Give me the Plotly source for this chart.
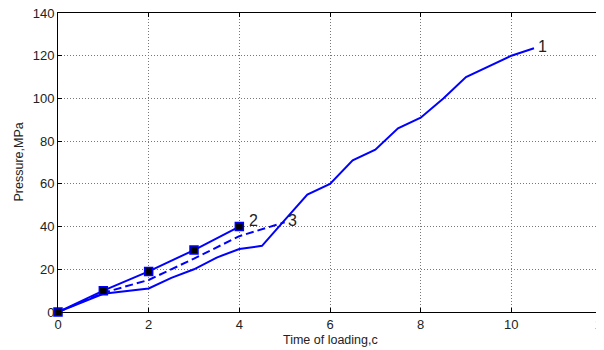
import plotly.graph_objects as go

# Curve 1 (solid, no markers)
t1 = [0, 1, 2, 2.5, 3, 3.5, 4, 4.5, 5, 5.5, 6, 6.5, 7, 7.5, 8, 8.5, 9, 9.5, 10, 10.5]
p1 = [0, 8.5, 11, 16, 20, 25.5, 29.5, 31, 43, 55, 60, 71, 76, 86, 91, 100, 110, 115, 120, 123.5]

# Curve 2 (solid, square markers)
t2 = [0, 1, 2, 3, 4]
p2 = [0, 10, 19, 29, 40]

# Curve 3 (dashed)
t3 = [0, 1, 2, 3, 4, 5]
p3 = [0, 9, 15, 25, 35.5, 42]

labels = ["1", "2", "3"]
x_ticks = [0, 2, 4, 6, 8, 10, 12]
y_ticks = [0, 20, 40, 60, 80, 100, 120, 140]

BLUE = "#0000ff"
FONT = "Liberation Sans, Arial, sans-serif"

fig = go.Figure()
fig.add_trace(go.Scatter(x=t1, y=p1, mode="lines",
                         line=dict(color=BLUE, width=2), cliponaxis=False))
fig.add_trace(go.Scatter(x=t3, y=p3, mode="lines",
                         line=dict(color=BLUE, width=2, dash="8px,4px"), cliponaxis=False))
fig.add_trace(go.Scatter(x=t2, y=p2, mode="lines+markers",
                         line=dict(color=BLUE, width=2),
                         marker=dict(symbol="square", size=8, color="black",
                                     line=dict(color=BLUE, width=1.5)),
                         cliponaxis=False))

# Curve labels next to the end of each curve
ends = [(t1[-1], p1[-1], 8, 2), (t2[-1], p2[-1], 14, 6), (t3[-1], p3[-1], 8, 2)]
for lab, (xe, ye, xs, ys) in zip(labels, ends):
    fig.add_annotation(x=xe, y=ye, text=lab, showarrow=False, xshift=xs, yshift=ys,
                       xanchor="center", yanchor="middle",
                       font=dict(family=FONT, size=16, color="#222"))

# Axis titles
fig.add_annotation(x=0, y=0.5, xref="paper", yref="paper", text="Pressure,MPa",
                   textangle=-90, showarrow=False, xshift=-40,
                   xanchor="center", yanchor="middle",
                   font=dict(family=FONT, size=12.5, color="#222"))
fig.add_annotation(x=0.5, y=0, xref="paper", yref="paper", text="Time of loading,c",
                   showarrow=False, yshift=-28, xanchor="center", yanchor="middle",
                   font=dict(family=FONT, size=12.5, color="#222"))

axis_common = dict(showline=True, linecolor="black", linewidth=1, mirror="ticks",
                   ticks="inside", ticklen=4, tickcolor="black", automargin=False,
                   ticklabeloverflow="allow",
                   showgrid=True, gridcolor="#777777", griddash="1px,2px", gridwidth=1,
                   zeroline=False, tickfont=dict(family=FONT, size=13, color="#222"))

fig.update_xaxes(range=[0, 12], tickvals=x_ticks, ticktext=[str(v) for v in x_ticks], **axis_common)
fig.update_yaxes(range=[0, 140], tickvals=y_ticks, ticktext=[str(v) for v in y_ticks], **axis_common)

# The page body adds an 8px offset, so the figure is sized to fill the rest of the window
fig.update_layout(width=596, height=342, margin=dict(l=50, r=1.5, t=5.3, b=38.3),
                  plot_bgcolor="white", paper_bgcolor="white", showlegend=False)

fig.write_html("out.html")
